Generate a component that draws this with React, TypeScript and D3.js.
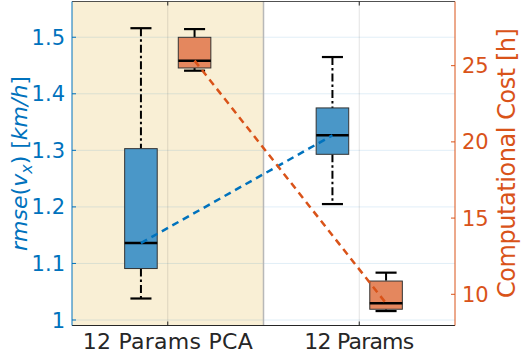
import React from "react";
import * as d3 from "d3";

const categories = ["12 Params PCA", "12 Params"];
const leftTicks = [1, 1.1, 1.2, 1.3, 1.4, 1.5];
const leftTickLabels = ["1", "1.1", "1.2", "1.3", "1.4", "1.5"];
const rightTicks = [10, 15, 20, 25];
const rightTickLabels = ["10", "15", "20", "25"];

const rmseLow = [1.038, 1.205];
const rmseQ1 = [1.091, 1.293];
const rmseMed = [1.136, 1.3265];
const rmseQ3 = [1.303, 1.375];
const rmseHigh = [1.516, 1.465];

const costLow = [24.67, 8.9];
const costQ1 = [24.85, 9.02];
const costMed = [25.33, 9.41];
const costQ3 = [26.86, 10.87];
const costHigh = [27.4, 11.42];

const W = 522, H = 354;
const X0 = 72, X1 = 455, Y0 = 1.5, Y1 = 325.5;
const BLUE = "#0072BD";
const ORANGE = "#D95319";
const BLUE_FILL = "#4a97c8";
const ORANGE_FILL = "#e4875e";
const FONT = "DejaVu Sans, sans-serif";

export default function App() {
  const x = d3.scaleLinear().domain([0.5, 2.5]).range([X0, X1]);
  const yL = d3.scaleLinear().domain([0.99027, 1.5632]).range([Y1, Y0]);
  const yR = d3.scaleLinear().domain([7.953, 29.21]).range([Y1, Y0]);

  const off = 0.14, bw = 0.17, cw = 0.11;

  const series = [
    { y: yL, low: rmseLow, q1: rmseQ1, med: rmseMed, q3: rmseQ3, high: rmseHigh, fill: BLUE_FILL, line: BLUE, dx: -off },
    { y: yR, low: costLow, q1: costQ1, med: costMed, q3: costQ3, high: costHigh, fill: ORANGE_FILL, line: ORANGE, dx: off },
  ];

  const lineGen = d3.line<[number, number]>().x(d => d[0]).y(d => d[1]);

  return (
    <svg width={W} height={H} style={{ position: "absolute", left: 0, top: 0, fontFamily: FONT }}>
      <rect x={0} y={0} width={W} height={H} fill="#ffffff" />
      <rect x={x(0.5)} y={Y0} width={x(1.5) - x(0.5)} height={Y1 - Y0} fill="#f9efd5" />
      {leftTicks.map((t, i) => (
        <line key={"hg" + i} x1={X0} x2={X1} y1={yL(t)} y2={yL(t)} stroke={BLUE} strokeOpacity={0.12} strokeWidth={1} />
      ))}
      {categories.map((c, i) => (
        <line key={"vg" + i} x1={x(i + 1)} x2={x(i + 1)} y1={Y0} y2={Y1} stroke="#262626" strokeOpacity={0.13} strokeWidth={1} />
      ))}
      <line x1={x(1.5)} x2={x(1.5)} y1={Y0} y2={Y1} stroke="#b8b8b8" strokeWidth={1.5} />

      {series.map((s, si) =>
        categories.map((c, i) => {
          const cx = x(i + 1 + s.dx);
          const bx0 = x(i + 1 + s.dx - bw / 2);
          const bx1 = x(i + 1 + s.dx + bw / 2);
          const cx0 = x(i + 1 + s.dx - cw / 2);
          const cx1 = x(i + 1 + s.dx + cw / 2);
          return (
            <g key={si + "-" + i}>
              <line x1={cx} x2={cx} y1={s.y(s.high[i])} y2={s.y(s.q3[i])} stroke="#000" strokeWidth={2} strokeDasharray="8,3,2.5,3" />
              <line x1={cx} x2={cx} y1={s.y(s.q1[i])} y2={s.y(s.low[i])} stroke="#000" strokeWidth={2} strokeDasharray="8,3,2.5,3" />
              <line x1={cx0} x2={cx1} y1={s.y(s.high[i])} y2={s.y(s.high[i])} stroke="#000" strokeWidth={2.2} />
              <line x1={cx0} x2={cx1} y1={s.y(s.low[i])} y2={s.y(s.low[i])} stroke="#000" strokeWidth={2.2} />
              <rect x={bx0} y={s.y(s.q3[i])} width={bx1 - bx0} height={s.y(s.q1[i]) - s.y(s.q3[i])} fill={s.fill} stroke="#333" strokeWidth={1} />
              <line x1={bx0} x2={bx1} y1={s.y(s.med[i])} y2={s.y(s.med[i])} stroke="#000" strokeWidth={2.5} />
            </g>
          );
        })
      )}
      {series.map((s, si) => (
        <path
          key={"ln" + si}
          d={lineGen(categories.map((c, i) => [x(i + 1 + s.dx), s.y(s.med[i])] as [number, number])) || ""}
          fill="none"
          stroke={s.line}
          strokeWidth={2.5}
          strokeDasharray="7,5"
        />
      ))}

      <line x1={X0} x2={X1} y1={Y0} y2={Y0} stroke="#262626" strokeWidth={1} strokeOpacity={0.8} />
      <line x1={X0} x2={X1} y1={Y1} y2={Y1} stroke="#262626" strokeWidth={1} />
      <line x1={X0} x2={X0} y1={Y0} y2={Y1} stroke={BLUE} strokeWidth={1} />
      <line x1={X1} x2={X1} y1={Y0} y2={Y1} stroke={ORANGE} strokeWidth={1} />
      {categories.map((c, i) => (
        <g key={"xt" + i}>
          <line x1={x(i + 1)} x2={x(i + 1)} y1={Y1} y2={Y1 - 4} stroke="#262626" />
          <line x1={x(i + 1)} x2={x(i + 1)} y1={Y0} y2={Y0 + 4} stroke="#262626" />
          <text x={x(i + 1)} y={349} textAnchor="middle" fontSize={22} fill="#262626"
            textLength={i === 0 ? 170 : 110} lengthAdjust="spacing">{c}</text>
        </g>
      ))}
      {leftTicks.map((t, i) => (
        <g key={"lt" + i}>
          <line x1={X0} x2={X0 + 4} y1={yL(t)} y2={yL(t)} stroke={BLUE} />
          <text x={65} y={yL(t)} dy="0.36em" textAnchor="end" fontSize={21} fill={BLUE}>{leftTickLabels[i]}</text>
        </g>
      ))}
      {rightTicks.map((t, i) => (
        <g key={"rt" + i}>
          <line x1={X1 - 4} x2={X1} y1={yR(t)} y2={yR(t)} stroke={ORANGE} />
          <text x={462} y={yR(t)} dy="0.36em" textAnchor="start" fontSize={21} fill={ORANGE}>{rightTickLabels[i]}</text>
        </g>
      ))}
      <text transform="translate(27,163.5) rotate(-90)" textAnchor="middle" fontSize={22} fill={BLUE}>
        <tspan fontStyle="italic">rmse</tspan>
        <tspan>(</tspan>
        <tspan fontStyle="italic">v</tspan>
        <tspan fontStyle="italic" fontSize={16} dy={5}>x</tspan>
        <tspan dy={-5}>)</tspan>
        <tspan> [</tspan>
        <tspan fontStyle="italic">km/h</tspan>
        <tspan>]</tspan>
      </text>
      <text transform="translate(515,163) rotate(-90)" textAnchor="middle" fontSize={24} fill={ORANGE}
        textLength={270} lengthAdjust="spacing">Computational Cost [h]</text>
    </svg>
  );
}
